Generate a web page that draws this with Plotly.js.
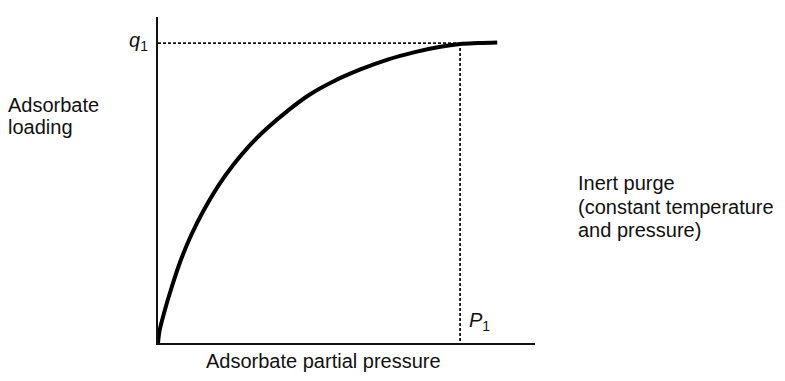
<!DOCTYPE html>
<html><head><meta charset="utf-8">
<script src="https://cdn.plot.ly/plotly-3.0.1.min.js"></script>
<style>html,body{margin:0;padding:0;background:#fff}#c{width:785px;height:381px}</style>
</head><body><div id="c"></div>
<script>
// Isotherm: adsorbate partial pressure (relative to P1) vs adsorbate loading (relative to q1)
const pressure = [0, 0.005, 0.02, 0.045, 0.075, 0.11, 0.15, 0.2, 0.25, 0.3, 0.36, 0.43, 0.5, 0.58, 0.67, 0.76, 0.85, 0.93, 1.0, 1.06, 1.123];
const loading  = [0, 0.04, 0.10, 0.185, 0.275, 0.36, 0.44, 0.525, 0.595, 0.655, 0.715, 0.775, 0.827, 0.872, 0.912, 0.945, 0.970, 0.987, 0.997, 1.0, 1.002];
const P1 = [1.0];
const q1 = [1.0];
const xLabel = "Adsorbate partial pressure";
const yLabel = ["Adsorbate", "loading"];
const sideNote = ["Inert purge", "(constant temperature", "and pressure)"];

const W = 785, H = 381;
const L = 158, R = 535, T = 17, B = 343;
const px = v => (v - L) / (R - L);
const py = v => (B - v) / (B - T);
const font = {family: "Liberation Sans, Arial, sans-serif", size: 20, color: "#111"};

const traces = [
  {x: [0, P1[0]], y: [q1[0], q1[0]], mode: "lines", line: {color: "#111", width: 1.8, dash: "3px,2px"}, hoverinfo: "skip"},
  {x: [P1[0], P1[0]], y: [q1[0], 0], mode: "lines", line: {color: "#111", width: 1.8, dash: "3px,2px"}, hoverinfo: "skip"},
  {x: pressure, y: loading, mode: "lines", line: {color: "#000", width: 4, shape: "spline", smoothing: 1}, hoverinfo: "skip"}
];

const ann = [];
function addText(text, x, y, xanchor) {
  ann.push({text: text, xref: "paper", yref: "paper", x: px(x), y: py(y), xanchor: xanchor, yanchor: "middle", showarrow: false, font: font});
}
yLabel.forEach((t, i) => addText(t, 6, 105 + i * 22, "left"));
sideNote.forEach((t, i) => addText(t, 576, 183 + i * 23.5, "left"));
addText(xLabel, 323, 361, "center");
addText("<i>q</i><sub>1</sub>", 150, 41, "right");
addText("<i>P</i><sub>1</sub>", 467, 321, "left");

const layout = {
  width: W, height: H,
  margin: {l: L, r: W - R, t: T, b: H - B, pad: 0},
  paper_bgcolor: "#fff", plot_bgcolor: "#fff",
  showlegend: false,
  xaxis: {range: [0, 1.248], showgrid: false, zeroline: false, showticklabels: false, ticks: "", showline: true, linecolor: "#111", linewidth: 2},
  yaxis: {range: [0, 1.087], showgrid: false, zeroline: false, showticklabels: false, ticks: "", showline: true, linecolor: "#111", linewidth: 2},
  annotations: ann
};
Plotly.newPlot("c", traces, layout, {staticPlot: true, displayModeBar: false});
</script></body></html>
